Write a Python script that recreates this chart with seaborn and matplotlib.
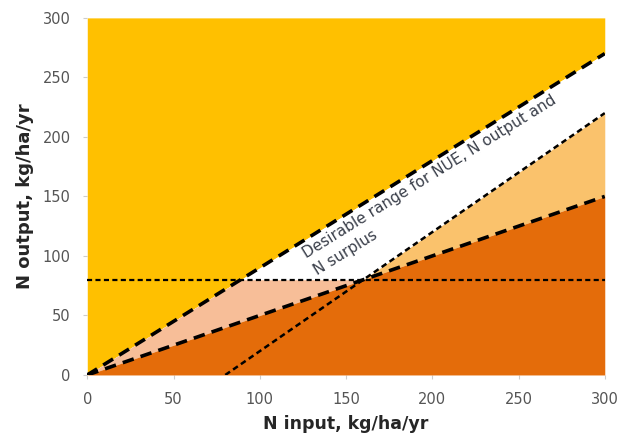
import numpy as np
import pandas as pd
import matplotlib
matplotlib.use("Agg")
import matplotlib.pyplot as plt
from matplotlib.transforms import offset_copy
import seaborn as sns

# === DATA ===
upper_x = [0, 300]        # NUE 90 % line
upper_y = [0, 270]
lower_x = [0, 300]        # NUE 50 % line
lower_y = [0, 150]
surplus_x = [80, 300]     # N surplus = 80 kg/ha/yr
surplus_y = [0, 220]
min_output = 80           # minimum N output
x_ticks = [0, 50, 100, 150, 200, 250, 300]
y_ticks = [0, 50, 100, 150, 200, 250, 300]

GOLD = '#FFC000'
PEACH = '#F7BE98'
LIGHT_ORANGE = '#FAC26C'
DARK_ORANGE = '#E46C0A'

sns.set_style("white")
plt.rcParams['font.family'] = ['DejaVu Sans']

fig = plt.figure(figsize=(6.19, 4.36), dpi=100)
ax = fig.add_axes([0.141, 0.14, 0.836, 0.819])

# background regions
xs = np.linspace(0, 300, 1201)
up = np.interp(xs, upper_x, upper_y)
lo = np.interp(xs, lower_x, lower_y)
sur = np.interp(xs, surplus_x, surplus_y, left=0)

ax.fill_between(xs, up, 300, color=GOLD, lw=0)
ax.fill_between(xs, lo, up, color='white', lw=0)
ax.fill_between(xs, lo, np.minimum(up, min_output), where=lo < min_output,
                color=PEACH, lw=0, interpolate=True)
ax.fill_between(xs, lo, sur, where=sur > lo, color=LIGHT_ORANGE, lw=0, interpolate=True)
ax.fill_between(xs, 0, lo, color=DARK_ORANGE, lw=0)

# lines
lines = pd.DataFrame({'x': upper_x, 'y': upper_y})
sns.lineplot(data=lines, x='x', y='y', ax=ax, color='black', lw=2.6)
ax.lines[-1].set_dashes((3.2, 2.0))
lines = pd.DataFrame({'x': lower_x, 'y': lower_y})
sns.lineplot(data=lines, x='x', y='y', ax=ax, color='black', lw=2.6)
ax.lines[-1].set_dashes((3.2, 2.0))
lines = pd.DataFrame({'x': surplus_x, 'y': surplus_y})
sns.lineplot(data=lines, x='x', y='y', ax=ax, color='black', lw=1.8)
ax.lines[-1].set_dashes((2.3, 1.5))
ax.axhline(min_output, color='black', lw=1.6, dashes=(2.3, 1.5))

ax.set_xlim(0, 300)
ax.set_ylim(0, 300)

# label inside the desirable band, parallel to the upper line
band_angle = np.degrees(np.arctan2(upper_y[1] - upper_y[0], upper_x[1] - upper_x[0]))
txt_kw = dict(rotation=band_angle, transform_rotates_text=True, rotation_mode='anchor',
              ha='left', va='baseline', fontsize=11, color='#3a3f4a')
ax.text(127, 98, 'Desirable range for NUE, N output and', **txt_kw)
rad = np.radians(31.9)
second = offset_copy(ax.transData, fig=fig, x=14.5 * np.sin(rad), y=-14.5 * np.cos(rad),
                     units='points')
ax.text(127, 98, 'N surplus', transform=second, **txt_kw)

ax.set_xticks(x_ticks)
ax.set_yticks(y_ticks)
ax.tick_params(axis='both', labelsize=10.5, colors='#cccccc', labelcolor='#555555',
               length=3, width=0.8, direction='out', bottom=True, left=True, pad=9)
for s in ax.spines.values():
    s.set_visible(False)
ax.set_xlabel('N input, kg/ha/yr', fontsize=12.5, fontweight='bold', labelpad=6)
ax.set_ylabel('N output, kg/ha/yr', fontsize=13, fontweight='bold', labelpad=6)

fig.savefig('out.png', dpi=100)
